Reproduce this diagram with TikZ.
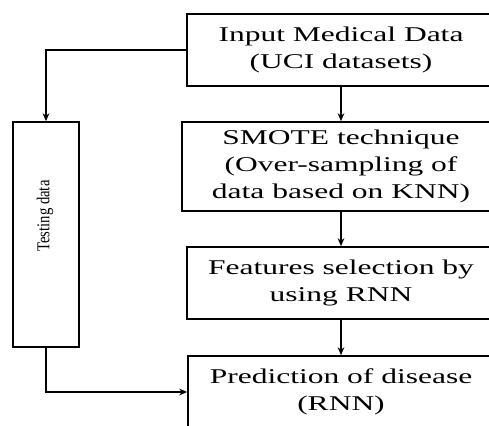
\documentclass[tikz,border=0pt]{standalone}
\usepackage{fontspec}
\setmainfont{Liberation Serif}
\newfontfamily\boxfont{Liberation Serif}[FakeStretch=1.5]
\newfontfamily\sidefont{Liberation Serif}[FakeStretch=0.81]
\usetikzlibrary{arrows.meta}

\tikzset{every picture/.style={line width=0.75pt}}
\tikzset{
  stepbox/.style={draw, line width=1.2pt, inner sep=0pt, align=center,
    font=\boxfont\fontsize{15.75}{20.25}\selectfont},
  arr/.style={line width=1pt, -{Stealth[length=6pt,width=5pt]}}
}

\begin{document}
\begin{tikzpicture}[x=0.75pt,y=0.75pt,yscale=-1,xscale=1]
\useasboundingbox (0,0) rectangle (489,425);

%Shape: Rectangle [id:input]
\node [stepbox, minimum width=231pt, minimum height=54pt] (input) at (341,50) {Input Medical Data\\(UCI datasets)};
%Shape: Rectangle [id:smote]
\node [stepbox, minimum width=238.5pt, minimum height=66.75pt] (smote) at (341,166.5) {SMOTE technique\\(Over-sampling of\\data based on KNN)};
%Shape: Rectangle [id:feat]
\node [stepbox, minimum width=231pt, minimum height=54pt] (feat) at (341,283) {Features selection by\\using RNN};
%Shape: Rectangle [id:pred]
\node [stepbox, minimum width=229.5pt, minimum height=54pt] (pred) at (341,392) {Prediction of disease\\(RNN)};
%Shape: Rectangle [id:test]
\node [draw, line width=1.2pt, inner sep=0pt, minimum width=49.5pt, minimum height=168.75pt] (test) at (46,234.5) {};

% Text Node
\node [rotate=90, inner sep=0pt, font=\sidefont\fontsize{13.6}{16}\selectfont] (testlbl) at (45,216) {Testing data};

%Straight Lines
\draw [arr] (input.west) -| (test.north);
\draw [arr] (input.south) -- (smote.north);
\draw [arr] (smote.south) -- (feat.north);
\draw [arr] (feat.south) -- (pred.north);
\draw [arr] (test.south) |- (pred.west);

\end{tikzpicture}
\end{document}
